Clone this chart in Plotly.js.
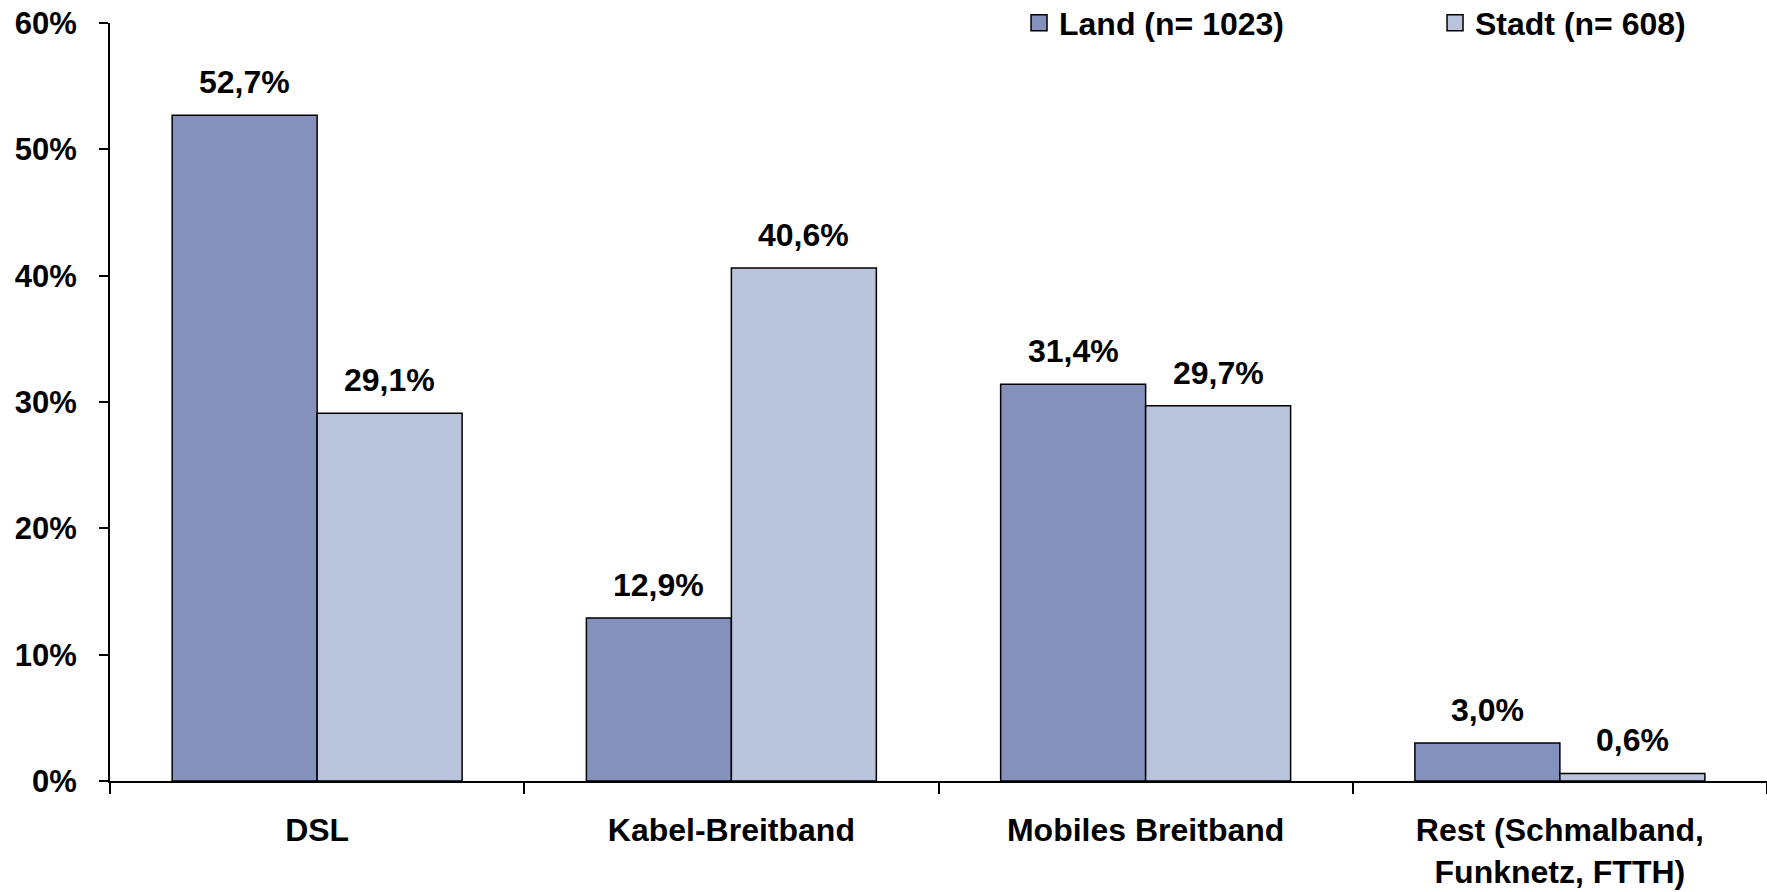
<!DOCTYPE html>
<html>
<head>
<meta charset="utf-8">
<script src="https://cdn.plot.ly/plotly-3.0.1.min.js"></script>
<style>html,body{margin:0;padding:0;background:#fff;}#chart{width:1767px;height:892px;}</style>
</head>
<body>
<div id="chart"></div>
<script>
const categories = ["DSL", "Kabel-Breitband", "Mobiles Breitband", "Rest (Schmalband,<br>Funknetz, FTTH)"];
const landValues = [52.7, 12.9, 31.4, 3.0];
const stadtValues = [29.1, 40.6, 29.7, 0.6];
const seriesNames = ["Land (n= 1023)", "Stadt (n= 608)"];
const seriesColors = ['#8491BD', '#B9C3DC'];
const yTicks = [0, 10, 20, 30, 40, 50, 60];
const yTickText = yTicks.map(v => v + '%');

const fmt = v => v.toFixed(1).replace('.', ',') + '%';
const FAMILY = "'Liberation Sans', Arial, sans-serif";
const FONT = {family: FAMILY, size: 32, color: '#000', weight: 'bold'};
const TICKFONT = {family: FAMILY, size: 31, color: '#000', weight: 'bold'};
const BARGAP = 0.3;

const seriesValues = [landValues, stadtValues];
const traces = [];
seriesValues.forEach((vals, s) => {
  traces.push({type: 'bar', name: seriesNames[s], x: categories, y: vals, showlegend: false,
    marker: {color: seriesColors[s], line: {color: '#000', width: 1.5}}});
});
// legend entries (square swatches)
seriesValues.forEach((vals, s) => {
  traces.push({type: 'scatter', mode: 'markers', name: seriesNames[s], x: [null], y: [null], showlegend: true,
    hoverinfo: 'skip',
    marker: {symbol: 'square', size: 16, color: seriesColors[s], line: {color: '#000', width: 1.5}}});
});

// value labels placed above each bar via the axes
const half = (1 - BARGAP) / 4;
const annotations = [];
seriesValues.forEach((vals, s) => {
  vals.forEach((v, i) => {
    annotations.push({xref: 'x', yref: 'y', x: i + (s === 0 ? -half : half), y: v,
      text: fmt(v), showarrow: false, yanchor: 'bottom', xanchor: 'center', yshift: 13, font: FONT});
  });
});

const layout = {
  width: 1767, height: 892,
  margin: {l: 110, r: 0, t: 23, b: 111, autoexpand: false},
  paper_bgcolor: '#fff', plot_bgcolor: '#fff',
  font: FONT,
  barmode: 'group', bargap: BARGAP, bargroupgap: 0,
  showlegend: true,
  annotations: annotations,
  legend: {orientation: 'h', x: 0.5486, xanchor: 'left', y: 1.0, yanchor: 'middle',
           entrywidth: 371, entrywidthmode: 'pixels', font: FONT, bgcolor: 'rgba(0,0,0,0)'},
  xaxis: {type: 'category', showline: true, linecolor: '#000', linewidth: 2,
          ticks: 'outside', tickson: 'boundaries', ticklen: 11, tickcolor: '#000', tickwidth: 2,
          ticklabelstandoff: 20, tickfont: FONT, showgrid: false, zeroline: false, fixedrange: true},
  yaxis: {range: [0, 60], tickvals: yTicks, ticktext: yTickText, showline: true, linecolor: '#000', linewidth: 2,
          ticks: 'outside', ticklen: 9, tickcolor: '#000', tickwidth: 2, ticklabelstandoff: 16,
          tickfont: TICKFONT, showgrid: false, zeroline: false, fixedrange: true}
};

Plotly.newPlot('chart', traces, layout, {displayModeBar: false, staticPlot: true});
</script>
</body>
</html>
